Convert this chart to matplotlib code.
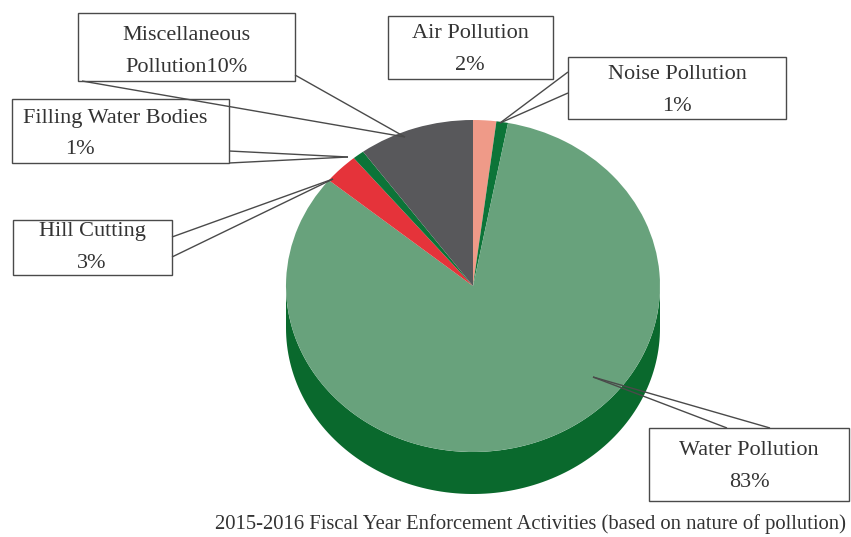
import numpy as np
import matplotlib
matplotlib.use("Agg")
from matplotlib import pyplot as plt
from matplotlib.patches import Wedge, Polygon, Rectangle
from matplotlib.transforms import Affine2D

# slices in clockwise order starting at 12 o'clock
names = ["Air Pollution", "Noise Pollution", "Water Pollution",
         "Hill Cutting", "Filling Water Bodies", "Miscellaneous Pollution"]
shares = [2, 1, 83, 3, 1, 10]
top_colors = ["#ef9a88", "#0c7438", "#68a27c", "#e5333a", "#0c7438", "#58585b"]
side_colors = ["#c87868", "#075a2a", "#0a692d", "#b0262c", "#075a2a", "#404042"]

label_text = ["Air Pollution\n2%", "Noise Pollution\n1%", "Water Pollution\n83%",
              "Hill Cutting\n3%", "Filling Water Bodies\n1%",
              "Miscellaneous\nPollution10%"]

W, H = 851, 537
fig = plt.figure(figsize=(W / 100, H / 100), dpi=100)
ax = fig.add_axes([0, 0, 1, 1])
ax.set_xlim(0, W)
ax.set_ylim(H, 0)
ax.axis("off")

cx, cy, rx, ry, depth = 473, 286, 187, 166, 42
ell = Affine2D().scale(rx, ry).translate(cx, cy) + ax.transData

# angles grow clockwise on screen because the y axis is flipped
edges = -90 + 360 * np.concatenate([[0], np.cumsum(shares)]) / sum(shares)

# side wall of the front half
for a0, a1, col in zip(edges[:-1], edges[1:], side_colors):
    for shift in (0, 360):
        lo, hi = max(a0 - shift, 0), min(a1 - shift, 180)
        if hi > lo:
            t = np.radians(np.linspace(lo, hi, 120))
            xs = cx + rx * np.cos(t)
            ys = cy + ry * np.sin(t)
            pts = np.vstack([np.column_stack([xs, ys]),
                             np.column_stack([xs[::-1], ys[::-1] + depth])])
            ax.add_patch(Polygon(pts, closed=True, facecolor=col,
                                 edgecolor="none"))

# top face
for a0, a1, col in zip(edges[:-1], edges[1:], top_colors):
    ax.add_patch(Wedge((0, 0), 1, a0, a1, facecolor=col, edgecolor="none",
                       transform=ell))

# callout boxes: (box x0, y0, x1, y1), two attach points, tip, text pos, align
callouts = [
    ((388, 16, 553, 79), None, None, (470, 49.5), "center"),
    ((568, 57, 786, 119), ((568, 72), (568, 93)), (500, 123), (677, 90.5), "center"),
    ((649, 428, 849, 501), ((727, 428), (770, 428)), (593, 377), (749, 466.5), "center"),
    ((13, 220, 172, 275), ((172, 237), (172, 257)), (333, 179), (92, 247.5), "center"),
    ((12, 99, 229, 163), ((229, 151), (229, 163)), (348, 157), (23, 134), "left"),
    ((78, 13, 295, 81), ((82, 81), (295, 75)), (405, 137), (186, 52), "center"),
]

fs = 16
serif = "Liberation Serif"

for (x0, y0, x1, y1), att, tip, tpos, align in callouts:
    ax.add_patch(Rectangle((x0, y0), x1 - x0, y1 - y0, facecolor="white",
                           edgecolor="#4a4a4a", lw=1.0, zorder=3))
    if att is not None:
        for p in att:
            ax.plot([p[0], tip[0]], [p[1], tip[1]], color="#4a4a4a", lw=1.0,
                    zorder=4, solid_capstyle="butt")

for (box, att, tip, tpos, align), txt in zip(callouts, label_text):
    first, second = txt.split("\n")
    x1 = 80 if align == "left" else tpos[0]
    ax.text(tpos[0], tpos[1] - 16, first, ha=align, va="center",
            fontsize=fs, family=serif, color="#333333", zorder=5)
    ax.text(x1, tpos[1] + 16, second, ha="center", va="center",
            fontsize=fs, family=serif, color="#333333", zorder=5)

ax.text(215, 524, "2015-2016 Fiscal Year Enforcement Activities "
        "(based on nature of pollution)", ha="left", va="center", fontsize=14.9,
        family=serif, color="#333333")

fig.savefig("out.png", dpi=100)
